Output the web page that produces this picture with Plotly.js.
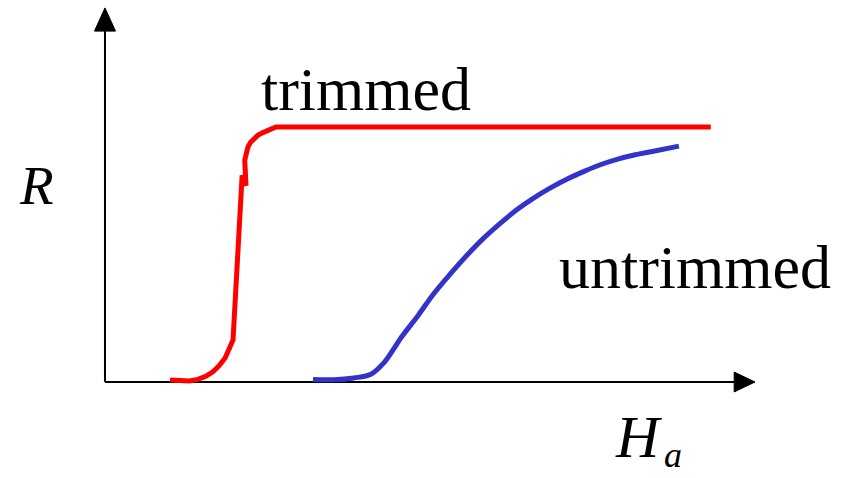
<!DOCTYPE html>
<html>
<head>
<meta charset="utf-8">
<script src="https://cdn.plot.ly/plotly-3.0.1.min.js"></script>
<style>html,body{margin:0;padding:0;background:#fff;}#chart{width:848px;height:478px;}</style>
</head>
<body>
<div id="chart"></div>
<script>
// Applied field H_a (arbitrary units) and resistance R (normalised)
const trimmedH = [1.0, 1.15, 1.3, 1.43, 1.55, 1.66, 1.76, 1.85, 1.93, 1.97, 2.11, 2.17, 2.15, 2.17, 2.2, 2.24, 2.29, 2.35, 2.43, 2.52, 2.63, 9.32];
const trimmedR = [0.008, 0.004, 0.004, 0.01, 0.022, 0.04, 0.065, 0.095, 0.135, 0.165, 0.81, 0.77, 0.87, 0.9, 0.922, 0.94, 0.955, 0.967, 0.978, 0.99, 1.0, 1.0];
const untrimmedH = [3.2, 3.52, 3.83, 4.09, 4.29, 4.45, 4.55, 4.82, 5.06, 5.32, 5.58, 5.83, 6.09, 6.35, 6.6, 6.86, 7.12, 7.37, 7.63, 7.89, 8.14, 8.4, 8.83];
const untrimmedR = [0.01, 0.009, 0.016, 0.03, 0.075, 0.133, 0.172, 0.262, 0.347, 0.426, 0.5, 0.565, 0.624, 0.678, 0.722, 0.762, 0.797, 0.826, 0.853, 0.874, 0.89, 0.903, 0.925];
const seriesNames = ['trimmed', 'untrimmed'];
const axisLabels = {x: 'H', xSub: 'a', y: 'R'};

const traces = [
  {x: trimmedH, y: trimmedR, mode: 'lines', name: seriesNames[0],
   line: {color: '#ff0000', width: 5}, hoverinfo: 'skip'},
  {x: untrimmedH, y: untrimmedR, mode: 'lines', name: seriesNames[1],
   line: {color: '#3333cc', width: 5, shape: 'spline', smoothing: 1}, hoverinfo: 'skip'}
];

const serif = 'Liberation Serif, Times New Roman, serif';
const layout = {
  width: 848, height: 478,
  margin: {l: 0, r: 0, t: 0, b: 0},
  paper_bgcolor: '#fff', plot_bgcolor: '#fff',
  showlegend: false,
  xaxis: {range: [-1.615, 11.431], visible: false, fixedrange: true},
  yaxis: {range: [-0.3765, 1.498], visible: false, fixedrange: true},
  shapes: [
    {type: 'line', xref: 'x', yref: 'y', x0: 0, y0: 0, x1: 9.72, y1: 0, line: {color: '#000', width: 2}, layer: 'below'},
    {type: 'line', xref: 'x', yref: 'y', x0: 0, y0: 0, x1: 0, y1: 1.39, line: {color: '#000', width: 2}, layer: 'below'},
    {type: 'path', xref: 'x', yref: 'y', path: 'M 9.68 0.039 L 10.0 0 L 9.68 -0.039 Z', fillcolor: '#000', line: {color: '#000', width: 1}},
    {type: 'path', xref: 'x', yref: 'y', path: 'M -0.162 1.376 L 0 1.467 L 0.162 1.376 Z', fillcolor: '#000', line: {color: '#000', width: 1}}
  ],
  annotations: [
    {text: seriesNames[0], xref: 'paper', yref: 'paper', x: 366/848, y: 1 - 89/478, xanchor: 'center', yanchor: 'middle', showarrow: false, font: {family: serif, size: 62, color: '#000'}},
    {text: seriesNames[1], xref: 'paper', yref: 'paper', x: 695/848, y: 1 - 267/478, xanchor: 'center', yanchor: 'middle', showarrow: false, font: {family: serif, size: 62, color: '#000'}},
    {text: '<i>' + axisLabels.y + '</i>', xref: 'paper', yref: 'paper', x: 36/848, y: 1 - 185/478, xanchor: 'center', yanchor: 'middle', showarrow: false, font: {family: serif, size: 55, color: '#000'}},
    {text: '<i>' + axisLabels.x + '</i>', xref: 'paper', yref: 'paper', x: 639/848, y: 1 - 437/478, xanchor: 'center', yanchor: 'middle', showarrow: false, font: {family: serif, size: 60, color: '#000'}},
    {text: '<i>' + axisLabels.xSub + '</i>', xref: 'paper', yref: 'paper', x: 673/848, y: 0.002, xanchor: 'center', yanchor: 'bottom', showarrow: false, font: {family: serif, size: 36, color: '#000'}}
  ]
};

Plotly.newPlot('chart', traces, layout, {staticPlot: true, displayModeBar: false});
</script>
</body>
</html>
